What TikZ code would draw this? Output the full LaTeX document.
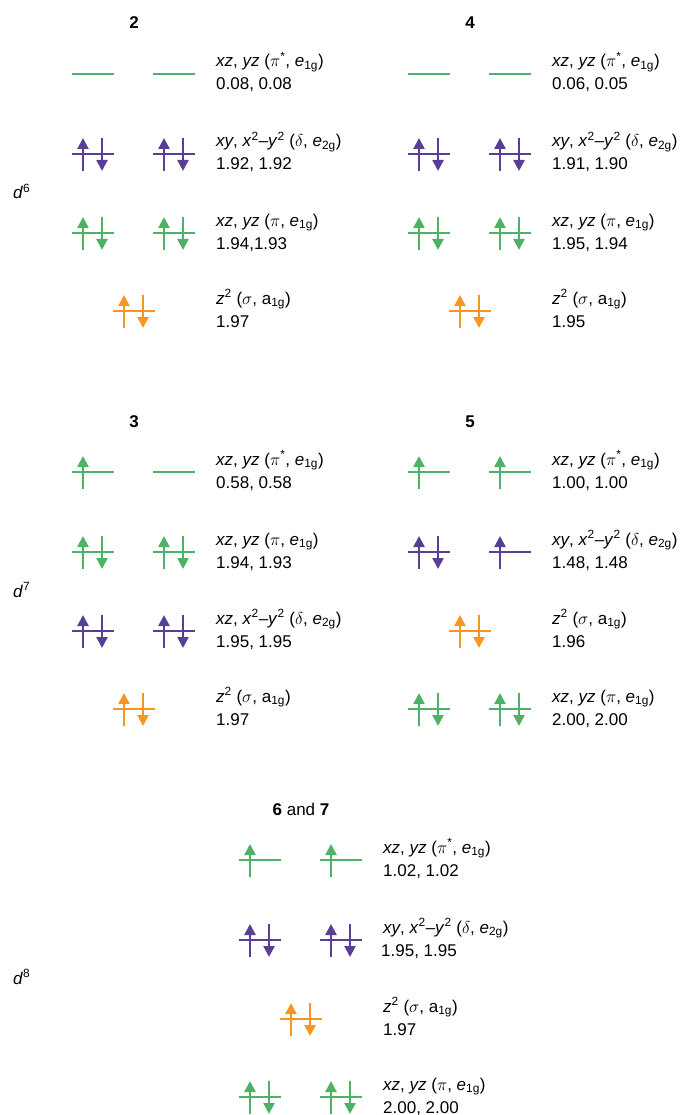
\documentclass[tikz,border=0pt]{standalone}
\usepackage{fontspec}
\setmainfont{Liberation Sans}
\definecolor{orbgreen}{RGB}{77,178,101}
\definecolor{orbpurple}{RGB}{90,62,150}
\definecolor{orborange}{RGB}{245,150,35}
\usetikzlibrary{arrows.meta}

\begin{document}
\begin{tikzpicture}[
  x=1pt, y=-1pt,
  font=\fontsize{17}{20}\selectfont,
  spin/.style={line width=2.3pt, -{Triangle[width=11pt, length=11pt]}},
  bare/.pic={\draw[line width=2.3pt] (-21,0) -- (21,0);},
  half/.pic={\draw[line width=2.3pt] (-21,0) -- (21,0);
    \draw[spin] (-10,17) -- (-10,-16);},
  full/.pic={\draw[line width=2.3pt] (-21,0) -- (21,0);
    \draw[spin] (-10,17) -- (-10,-16);
    \draw[spin] (9,-16) -- (9,17);},
  lbl/.style={anchor=base west, inner sep=0pt},
  ttl/.style={anchor=base, inner sep=0pt}
]
  \useasboundingbox (0,0) rectangle (681,1115);

  % d-electron counts
  \node[lbl] (d6) at (13,199) {\textit{d}\textsuperscript{6}};
  \node[lbl] (d7) at (13,597) {\textit{d}\textsuperscript{7}};
  \node[lbl] (d8) at (13,984) {\textit{d}\textsuperscript{8}};

  % complex 2
  \node[ttl] (t2) at (134,29) {\textbf{2}};
  \pic[orbgreen] at (93,74) {bare}; \pic[orbgreen] at (174,74) {bare};
  \node[lbl] (a2) at (216,67) {\textit{xz}, \textit{yz} ($\pi$\textsuperscript{*}, \textit{e}\textsubscript{1g})};
  \node[lbl] (b2) at (216,90) {0.08, 0.08};
  \pic[orbpurple] at (93,154) {full}; \pic[orbpurple] at (174,154) {full};
  \node[lbl] (c2) at (216,147) {\textit{xy}, \textit{x}\textsuperscript{2}--\textit{y}\textsuperscript{2} ($\delta$, \textit{e}\textsubscript{2g})};
  \node[lbl] (e2) at (216,170) {1.92, 1.92};
  \pic[orbgreen] at (93,233) {full}; \pic[orbgreen] at (174,233) {full};
  \node[lbl] (f2) at (216,226) {\textit{xz}, \textit{yz} ($\pi$, \textit{e}\textsubscript{1g})};
  \node[lbl] (g2) at (216,249) {1.94,1.93};
  \pic[orborange] at (134,311) {full};
  \node[lbl] (h2) at (216,304) {\textit{z}\textsuperscript{2} ($\sigma$, a\textsubscript{1g})};
  \node[lbl] (i2) at (216,327) {1.97};

  % complex 4
  \begin{scope}[shift={(336,0)}]
    \node[ttl] (t4) at (134,29) {\textbf{4}};
    \pic[orbgreen] at (93,74) {bare}; \pic[orbgreen] at (174,74) {bare};
    \node[lbl] (a4) at (216,67) {\textit{xz}, \textit{yz} ($\pi$\textsuperscript{*}, \textit{e}\textsubscript{1g})};
    \node[lbl] (b4) at (216,90) {0.06, 0.05};
    \pic[orbpurple] at (93,154) {full}; \pic[orbpurple] at (174,154) {full};
    \node[lbl] (c4) at (216,147) {\textit{xy}, \textit{x}\textsuperscript{2}--\textit{y}\textsuperscript{2} ($\delta$, \textit{e}\textsubscript{2g})};
    \node[lbl] (e4) at (216,170) {1.91, 1.90};
    \pic[orbgreen] at (93,233) {full}; \pic[orbgreen] at (174,233) {full};
    \node[lbl] (f4) at (216,226) {\textit{xz}, \textit{yz} ($\pi$, \textit{e}\textsubscript{1g})};
    \node[lbl] (g4) at (216,249) {1.95, 1.94};
    \pic[orborange] at (134,311) {full};
    \node[lbl] (h4) at (216,304) {\textit{z}\textsuperscript{2} ($\sigma$, a\textsubscript{1g})};
    \node[lbl] (i4) at (216,327) {1.95};
  \end{scope}

  % complex 3
  \begin{scope}[shift={(0,398)}]
    \node[ttl] (t3) at (134,29) {\textbf{3}};
    \pic[orbgreen] at (93,74) {half}; \pic[orbgreen] at (174,74) {bare};
    \node[lbl] (a3) at (216,67) {\textit{xz}, \textit{yz} ($\pi$\textsuperscript{*}, \textit{e}\textsubscript{1g})};
    \node[lbl] (b3) at (216,90) {0.58, 0.58};
    \pic[orbgreen] at (93,154) {full}; \pic[orbgreen] at (174,154) {full};
    \node[lbl] (c3) at (216,147) {\textit{xz}, \textit{yz} ($\pi$, \textit{e}\textsubscript{1g})};
    \node[lbl] (e3) at (216,170) {1.94, 1.93};
    \pic[orbpurple] at (93,233) {full}; \pic[orbpurple] at (174,233) {full};
    \node[lbl] (f3) at (216,226) {\textit{xz}, \textit{x}\textsuperscript{2}--\textit{y}\textsuperscript{2} ($\delta$, \textit{e}\textsubscript{2g})};
    \node[lbl] (g3) at (216,249) {1.95, 1.95};
    \pic[orborange] at (134,311) {full};
    \node[lbl] (h3) at (216,304) {\textit{z}\textsuperscript{2} ($\sigma$, a\textsubscript{1g})};
    \node[lbl] (i3) at (216,327) {1.97};
  \end{scope}

  % complex 5
  \begin{scope}[shift={(336,398)}]
    \node[ttl] (t5) at (134,29) {\textbf{5}};
    \pic[orbgreen] at (93,74) {half}; \pic[orbgreen] at (174,74) {half};
    \node[lbl] (a5) at (216,67) {\textit{xz}, \textit{yz} ($\pi$\textsuperscript{*}, \textit{e}\textsubscript{1g})};
    \node[lbl] (b5) at (216,90) {1.00, 1.00};
    \pic[orbpurple] at (93,154) {full}; \pic[orbpurple] at (174,154) {half};
    \node[lbl] (c5) at (216,147) {\textit{xy}, \textit{x}\textsuperscript{2}--\textit{y}\textsuperscript{2} ($\delta$, \textit{e}\textsubscript{2g})};
    \node[lbl] (e5) at (216,170) {1.48, 1.48};
    \pic[orborange] at (134,233) {full};
    \node[lbl] (f5) at (216,226) {\textit{z}\textsuperscript{2} ($\sigma$, a\textsubscript{1g})};
    \node[lbl] (g5) at (216,249) {1.96};
    \pic[orbgreen] at (93,311) {full}; \pic[orbgreen] at (174,311) {full};
    \node[lbl] (h5) at (216,304) {\textit{xz}, \textit{yz} ($\pi$, \textit{e}\textsubscript{1g})};
    \node[lbl] (i5) at (216,327) {2.00, 2.00};
  \end{scope}

  % complexes 6 and 7
  \begin{scope}[shift={(167,786)}]
    \node[ttl] (t6) at (134,29) {\textbf{6} and \textbf{7}};
    \pic[orbgreen] at (93,74) {half}; \pic[orbgreen] at (174,74) {half};
    \node[lbl] (a6) at (216,67) {\textit{xz}, \textit{yz} ($\pi$\textsuperscript{*}, \textit{e}\textsubscript{1g})};
    \node[lbl] (b6) at (216,90) {1.02, 1.02};
    \pic[orbpurple] at (93,154) {full}; \pic[orbpurple] at (174,154) {full};
    \node[lbl] (c6) at (216,147) {\textit{xy}, \textit{x}\textsuperscript{2}--\textit{y}\textsuperscript{2} ($\delta$, \textit{e}\textsubscript{2g})};
    \node[lbl] (e6) at (214,170) {1.95, 1.95};
    \pic[orborange] at (134,233) {full};
    \node[lbl] (f6) at (216,226) {\textit{z}\textsuperscript{2} ($\sigma$, a\textsubscript{1g})};
    \node[lbl] (g6) at (216,249) {1.97};
    \pic[orbgreen] at (93,311) {full}; \pic[orbgreen] at (174,311) {full};
    \node[lbl] (h6) at (216,304) {\textit{xz}, \textit{yz} ($\pi$, \textit{e}\textsubscript{1g})};
    \node[lbl] (i6) at (216,327) {2.00, 2.00};
  \end{scope}
\end{tikzpicture}
\end{document}
